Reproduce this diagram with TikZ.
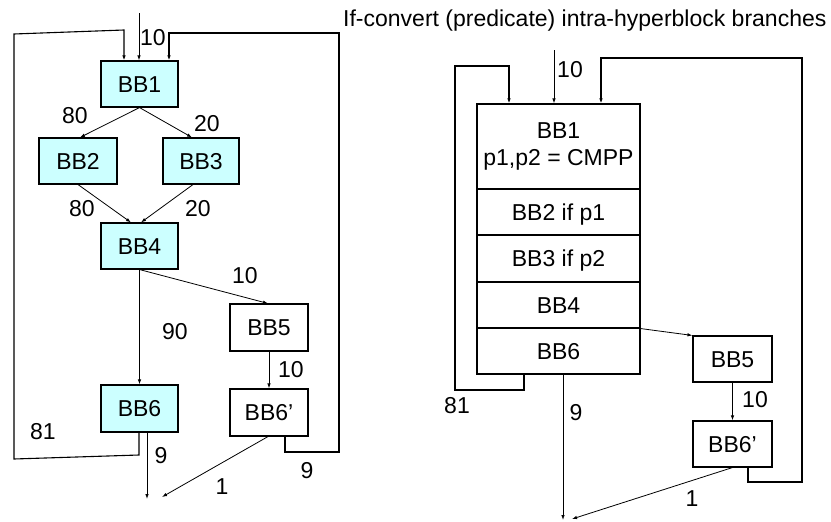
\documentclass[tikz,border=0pt]{standalone}
\usepackage{fontspec}
\setmainfont{Liberation Sans}
\usetikzlibrary{arrows.meta}
\definecolor{bbfill}{HTML}{CCFFFF}
\tikzset{
  every node/.style={font=\fontsize{23}{27}\selectfont, inner sep=0pt},
  bbox/.style={draw, line width=1.1pt, minimum width=77pt, minimum height=46pt, text height=16.4pt, text depth=0pt},
  cbox/.style={bbox, fill=bbfill},
  hbox/.style={draw, line width=1.1pt, minimum width=163pt, text height=16.4pt, text depth=0pt},
  conn/.style={line width=0.8pt, -{Latex[length=5pt,width=3.5pt]}},
  loopline/.style={line width=1.8pt, -{Latex[length=5pt,width=3.5pt]}, line join=miter},
  lab/.style={}
}
\begin{document}
\begin{tikzpicture}[x=1pt,y=-1pt]
\useasboundingbox (0,0) rectangle (831,522);
% ---------- left diagram ----------
\node[cbox] (bb1) at (139.5,84) {BB1};
\node[cbox, minimum width=78pt] (bb2) at (78,161) {BB2};
\node[cbox, minimum width=76pt] (bb3) at (201,161) {BB3};
\node[cbox] (bb4) at (139.5,246) {BB4};
\node[bbox, minimum width=78pt, minimum height=47pt] (bb5) at (269,327.5) {BB5};
\node[cbox, minimum height=47pt] (bb6) at (139.5,408.5) {BB6};
\node[bbox, minimum width=78pt, minimum height=47pt] (bb6p) at (269,412.5) {BB6’};
\coordinate (inL) at (139,13);
\coordinate (outL) at (147,499);
\coordinate (outLb) at (162,497);

\draw[conn] (inL) -- (inL |- bb1.north);
\draw[conn] (bb1.south) -- ([xshift=2pt]bb2.north);
\draw[conn] (bb1.south) -- ([xshift=-9pt]bb3.north);
\draw[conn] (bb2.south) -- ([xshift=-8.5pt]bb4.north);
\draw[conn] ([xshift=-8pt]bb3.south) -- ([xshift=1.5pt]bb4.north);
\draw[conn] (bb4.south) -- (bb6.north);
\draw[conn] (bb4.south) -- ([xshift=-1pt]bb5.north);
\draw[conn] (bb5.south) -- (bb6p.north);
\draw[conn] ([xshift=7.5pt]bb6.south) -- (outL);
\draw[conn] ([xshift=-1pt]bb6p.south) -- (outLb);
\draw[line width=1.1pt, -{Latex[length=5pt,width=3.5pt]}] ([xshift=-0.5pt]bb6.south) -- (139,455) -- (14,459) -- (14,34) -- (124,30) -- ([xshift=-15.5pt]bb1.north);
\draw[loopline] ([xshift=16pt]bb6p.south) -- (285,452) -- (339,452) -- (339,33) -- (169,33) -- ([xshift=29.5pt]bb1.north);

\node[lab] at (153,38) {10};
\node[lab] at (75,116) {80};
\node[lab] at (207,124) {20};
\node[lab] at (82,209) {80};
\node[lab] at (198,209) {20};
\node[lab] at (245,276) {10};
\node[lab] at (175,332) {90};
\node[lab] at (291,370) {10};
\node[lab] at (43,432) {81};
\node[lab] at (161,456) {9};
\node[lab] at (307,471) {9};
\node[lab] at (222,487) {1};

% ---------- right diagram ----------
\node[anchor=base west] (title) at (343,27) {If-convert (predicate) intra-hyperblock branches};

\node[draw, line width=1.1pt, minimum width=163pt, minimum height=85pt, align=center] (hb1) at (558.5,146.5) {BB1\\p1,p2 = CMPP};
\node[hbox, minimum height=46pt] (hb2) at (558.5,212) {BB2 if p1};
\node[hbox, minimum height=47pt] (hb3) at (558.5,258.5) {BB3 if p2};
\node[hbox, minimum height=46pt] (hb4) at (558.5,305) {BB4};
\node[hbox, minimum height=46pt] (hb6) at (558.5,351) {BB6};
\node[bbox, minimum width=79pt] (rb5) at (732.5,359) {BB5};
\node[bbox, minimum width=79pt] (rb6p) at (732.5,444) {BB6’};
\coordinate (inR) at (554,50);
\coordinate (outR) at (563,520);
\coordinate (outRb) at (572,519);

\draw[conn] (inR) -- (inR |- hb1.north);
\draw[loopline] ([xshift=-34.5pt]hb6.south) -- (524,390) -- (455,390) -- (455,66) -- (509,66) -- ([xshift=-49.5pt]hb1.north);
\draw[loopline] ([xshift=15.5pt]rb6p.south) -- (748,482) -- (802,482) -- (802,58) -- (601,58) -- ([xshift=42.5pt]hb1.north);
\draw[conn] (hb4.south east) -- (rb5.north west);
\draw[conn] (rb5.south) -- (rb6p.north);
\draw[conn] ([xshift=4.5pt]hb6.south) -- (outR);
\draw[conn] (rb6p.south) -- (outRb);

\node[lab] at (570,70) {10};
\node[lab] at (457,406) {81};
\node[lab] at (576,413) {9};
\node[lab] at (755,400) {10};
\node[lab] at (692,499) {1};
\end{tikzpicture}
\end{document}
